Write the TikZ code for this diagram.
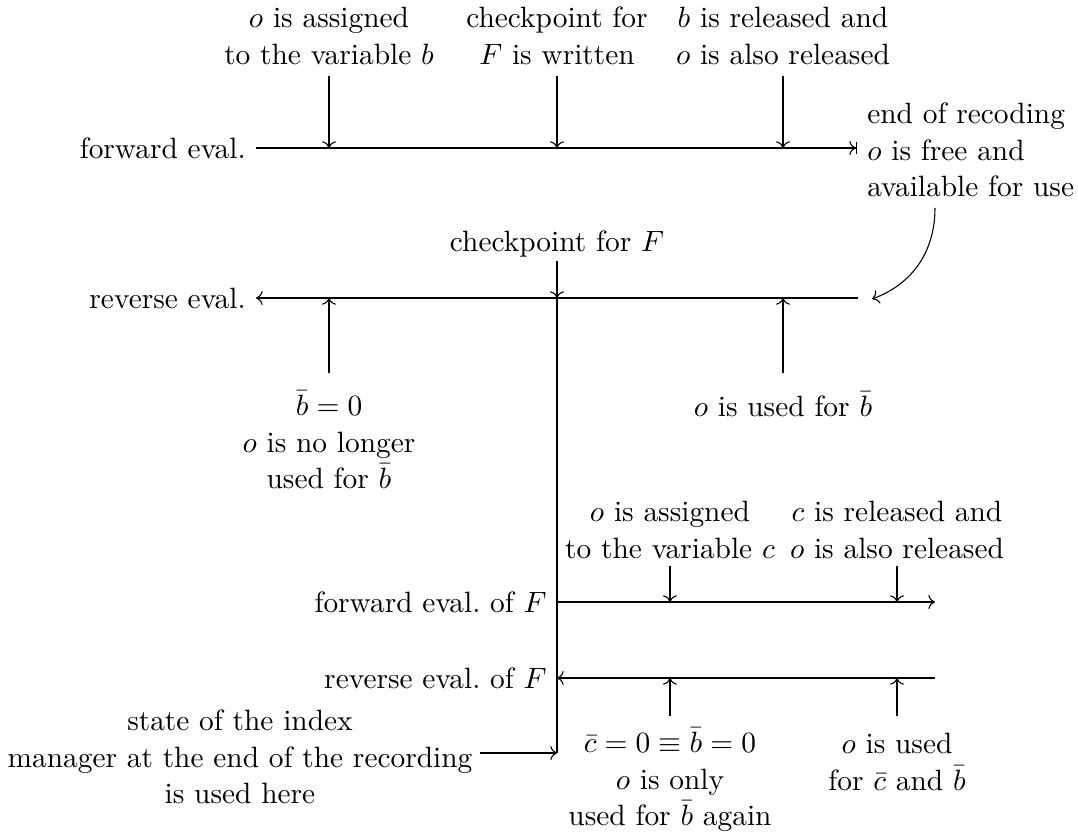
\documentclass[tikz,border=0pt,11pt]{standalone}
\usetikzlibrary{arrows.meta}
\begin{document}
\begin{tikzpicture}[x=0.3726pt,y=-0.3726pt,
  lbl/.style={align=center,inner sep=0pt},
  side/.style={anchor=east},
  tick/.style={->}]
\useasboundingbox (0,0) rectangle (1078,834);

% ---- forward eval
\node[side] (fl) at (256,148) {forward eval.};
\coordinate (fe) at (857,148);
\draw[-{To[]Bar[]}] (fl.east) -- (fe);
\node[anchor=west,align=left] (endl) at (857,150) {end of recoding\\$o$ is free and\\available for use};

\node[lbl] (t1) at (329,36) {$o$ is assigned\\to the variable $b$};
\node[lbl] (t2) at (557,36) {checkpoint for\\$F$ is written};
\node[lbl] (t3) at (783,36) {$b$ is released and\\$o$ is also released};
\coordinate (a1) at (329,76);
\coordinate (a2) at (557,76);
\coordinate (a3) at (783,76);
\draw[tick] (a1) -- (a1 |- fl.east);
\draw[tick] (a2) -- (a2 |- fl.east);
\draw[tick] (a3) -- (a3 |- fl.east);

% ---- curved connector
\coordinate (c1) at (935,208);
\coordinate (c2) at (872,299);
\draw[->] (c1) to[out=-90,in=20] (c2);

% ---- reverse eval
\node[side] (rl) at (256,298) {reverse eval.};
\coordinate (re) at (858,298);
\draw[->] (re) -- (rl.east);

\node[lbl] (cp) at (557,244) {checkpoint for $F$};
\coordinate (cpa) at (557,261);
\coordinate (cpb) at (557,298);
\draw[tick] (cpa) -- (cpb);

\coordinate (u1) at (329,373);
\coordinate (u2) at (783,373);
\draw[tick] (u1) -- (u1 |- rl.east);
\draw[tick] (u2) -- (u2 |- rl.east);
\node[lbl] (b1) at (329,440) {$\bar b = 0$\\$o$ is no longer\\used for $\bar b$};
\node[lbl] (b2) at (783,404) {$o$ is used for $\bar b$};

% ---- forward eval of F
\node[side] (ffl) at (557,602) {forward eval.\ of $F$};
\coordinate (ffe) at (935,602);
\draw[->] (ffl.east) -- (ffe);
\node[lbl] (f1) at (670,530) {$o$ is assigned\\to the variable $c$};
\node[lbl] (f2) at (897,530) {$c$ is released and\\$o$ is also released};
\coordinate (fa1) at (670,566);
\coordinate (fa2) at (897,566);
\draw[tick] (fa1) -- (fa1 |- ffl.east);
\draw[tick] (fa2) -- (fa2 |- ffl.east);

% ---- reverse eval of F
\node[side] (rfl) at (557,678) {reverse eval.\ of $F$};
\coordinate (rfe) at (935,678);
\draw[->] (rfe) -- (rfl.east);
\coordinate (ru1) at (670,716);
\coordinate (ru2) at (897,716);
\draw[tick] (ru1) -- (ru1 |- rfl.east);
\draw[tick] (ru2) -- (ru2 |- rfl.east);
\node[lbl] (g1) at (670,780) {$\bar c = 0 \equiv \bar b = 0$\\$o$ is only\\used for $\bar b$ again};
\node[lbl] (g2) at (897,762) {$o$ is used\\for $\bar c$ and $\bar b$};

% ---- state
\node[lbl] (st) at (240,757) {state of the index\\manager at the end of the recording\\is used here};
\coordinate (sa) at (480,753);
\coordinate (vend) at (557,753);
\draw (cpb) -- (vend);
\draw[->] (sa) -- (vend);
\end{tikzpicture}
\end{document}
